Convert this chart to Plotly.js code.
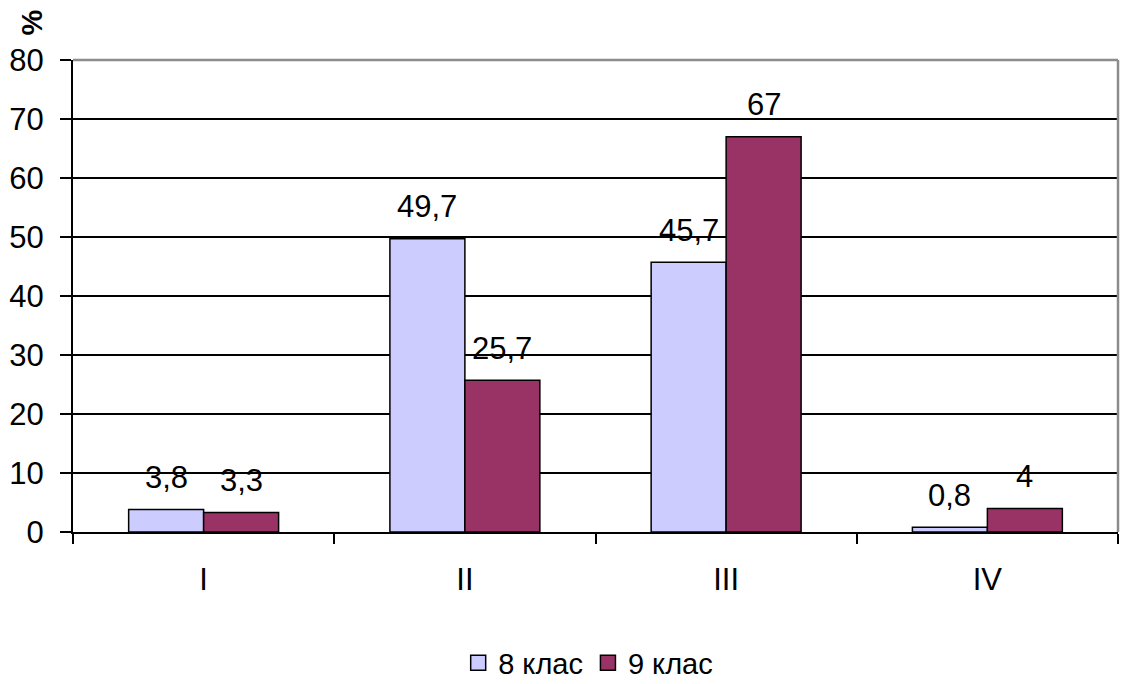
<!DOCTYPE html>
<html>
<head>
<meta charset="utf-8">
<script src="https://cdn.plot.ly/plotly-3.0.1.min.js"></script>
<style>html,body{margin:0;padding:0;background:#fff;}#chart{width:1122px;height:684px;}</style>
</head>
<body>
<div id="chart"></div>
<script>
var categories = ["I", "II", "III", "IV"];
var seriesNames = ["8 клас", "9 клас"];
var values8 = [3.8, 49.7, 45.7, 0.8];
var values9 = [3.3, 25.7, 67, 4];
var yTicks = [0, 10, 20, 30, 40, 50, 60, 70, 80];
var colors = ["#CCCCFF", "#993366"];

var FONT = "Liberation Sans, Arial, sans-serif";
function fmt(v){ return String(v).replace('.', ','); }

var traces = [values8, values9].map(function(vals, i){
  return {
    type: 'bar', name: seriesNames[i], x: categories, y: vals,
    marker: {color: colors[i], line: {color: '#000', width: 1.5}},
    hoverinfo: 'none', showlegend: false
  };
});
// legend entries (square markers)
seriesNames.forEach(function(n, i){
  traces.push({
    type: 'scatter', mode: 'markers', name: n, x: [categories[0]], y: [null],
    marker: {symbol: 'square', size: 15, color: colors[i], line: {color: '#000', width: 1.5}},
    hoverinfo: 'none', showlegend: true
  });
});

var annotations = [];
[values8, values9].forEach(function(vals, i){
  vals.forEach(function(v, j){
    annotations.push({
      x: categories[j], y: v, xref: 'x', yref: 'y',
      text: fmt(v), showarrow: false,
      xshift: i === 0 ? -37.5 : 37.5, yshift: 32,
      font: {family: FONT, size: 31, color: '#000'}
    });
  });
});
annotations.push({
  xref: 'paper', yref: 'paper', x: -0.056, y: 1.112,
  text: '<b>%</b>', textangle: -90, showarrow: false,
  font: {family: FONT, size: 29, color: '#000'}
});

var layout = {
  width: 1122, height: 684,
  margin: {l: 73, r: 4, t: 60, b: 152, autoexpand: false},
  paper_bgcolor: '#fff', plot_bgcolor: '#fff',
  font: {family: FONT, color: '#000'},
  barmode: 'group', bargap: 0.426, bargroupgap: 0,
  showlegend: true,
  legend: {orientation: 'h', x: 0.493, xanchor: 'center', y: -0.2775, yanchor: 'middle',
           font: {family: FONT, size: 29, color: '#000'}, itemwidth: 30, tracegroupgap: 0},
  xaxis: {
    type: 'category', tickson: 'boundaries', ticks: 'outside', ticklen: 10, tickwidth: 2, tickcolor: '#000',
    showline: true, linecolor: '#000', linewidth: 2, showgrid: false, automargin: false,
    tickfont: {family: FONT, size: 31, color: '#000'}, ticklabelstandoff: 19, fixedrange: true
  },
  yaxis: {
    range: [0, 80], tickvals: yTicks, ticktext: yTicks.map(String),
    ticks: 'outside', ticklen: 11, tickwidth: 2, tickcolor: '#000',
    showline: true, linecolor: '#000', linewidth: 2, automargin: false,
    showgrid: true, gridcolor: '#000', gridwidth: 2, zeroline: false,
    tickfont: {family: FONT, size: 31, color: '#000'}, ticklabelstandoff: 10, fixedrange: true
  },
  shapes: [
    {type: 'line', xref: 'paper', yref: 'paper', x0: 0, x1: 1, y0: 1, y1: 1, line: {color: '#8c8c8c', width: 2.5}, layer: 'above'},
    {type: 'line', xref: 'paper', yref: 'paper', x0: 1, x1: 1, y0: 0, y1: 1, line: {color: '#8c8c8c', width: 2.5}, layer: 'above'}
  ],
  annotations: annotations
};

Plotly.newPlot('chart', traces, layout, {displayModeBar: false, staticPlot: true});
</script>
</body>
</html>
